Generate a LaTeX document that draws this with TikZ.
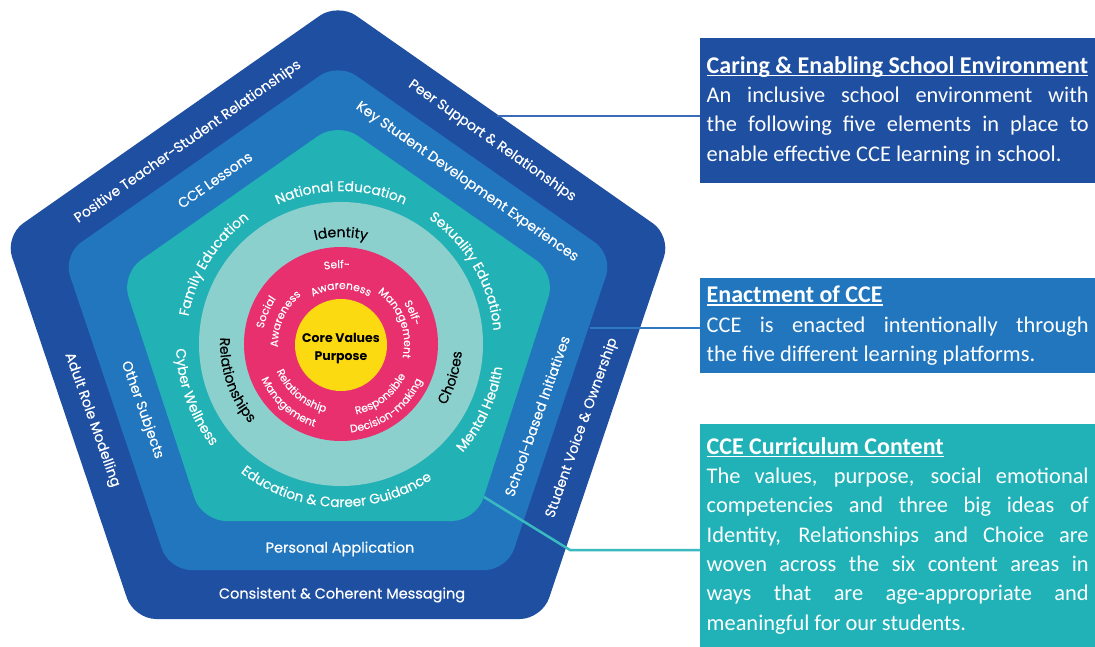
\documentclass[tikz,border=0pt]{standalone}
\usepackage{fontspec}
\setmainfont{Carlito}
\newfontfamily\pop{Poppins}
\newfontfamily\popm{Poppins}[FakeBold=0.4]
\newfontfamily\popl{Poppins}[FakeBold=0.25]
\usetikzlibrary{decorations.text,calc}
\definecolor{dblue}{HTML}{1F4FA0}
\definecolor{mblue}{HTML}{2176BE}
\definecolor{tealc}{HTML}{22B1B5}
\definecolor{lteal}{HTML}{8CD0CE}
\definecolor{pinkc}{HTML}{E8306F}
\definecolor{yellowc}{HTML}{FCDA12}
\definecolor{lineone}{HTML}{3A6BB8}
\definecolor{linetwo}{HTML}{2E7AC2}
\definecolor{linethree}{HTML}{38BAC0}
\definecolor{boxteal}{HTML}{21B2B8}
\pgfdeclareradialshading{ringfade}{\pgfpoint{0bp}{0bp}}{color(0bp)=(lteal); color(44bp)=(lteal); color(50bp)=(tealc)}
\newlength\hdlen
\newcommand\hdul[1]{{\fontsize{24}{29.3}\selectfont\bfseries\settowidth{\hdlen}{#1}\makebox[0pt][l]{\rule[-3pt]{\hdlen}{1.5pt}}#1}}
\tikzset{
  lbl/.style={text=white, font=\popm\fontsize{14}{14}\selectfont, inner sep=0pt},
  lblb/.style={text=white, font=\popm\fontsize{14.5}{14.5}\selectfont, inner sep=0pt},
  tealtxt/.style={decorate, decoration={text along path, text align=center, text color=white, text={|\popm\fontsize{13.8}{13.8}\selectfont|#1}}},
  ringtxt/.style={decorate, decoration={text along path, text align=center, text color=black, text={|\popm\fontsize{14}{14}\selectfont|#1}}},
  pinktxt/.style={decorate, decoration={text along path, text align=center, text color=white, text={|\popl\fontsize{10.8}{10.8}\selectfont|#1}}},
  infobox/.style={anchor=north west, text width=382pt, inner xsep=6.5pt, inner ysep=0pt, align=justify, text=white, font=\fontsize{22.4}{29.3}\selectfont},
  conn/.style={line width=2.5pt}
}
\begin{document}
\begin{tikzpicture}[x=1pt,y=1pt]
\useasboundingbox (0,0) rectangle (1095,-647);
\fill[white] (0,0) rectangle (1095,-647);
% pentagons
\fill[dblue, rounded corners=22pt] (338,-3) -- (671,-236) -- (542,-619) -- (134,-619) -- (5,-236) -- cycle;
\fill[mblue, rounded corners=22pt] (338,-63) -- (613,-255) -- (507,-570) -- (169,-570) -- (63,-255) -- cycle;
\fill[tealc, rounded corners=24pt] (338,-122) -- (556,-274) -- (476,-521) -- (202,-521) -- (121,-274) -- cycle;
\coordinate (C) at (341,-344);
\shade[shading=ringfade] (C) circle[radius=142];
\fill[pinkc] (C) circle[radius=97];
\fill[yellowc] (341,-345) circle[radius=46];
% core
\node[font=\pop\bfseries\fontsize{12.5}{12.5}\selectfont, inner sep=0pt] (core1) at (341,-338) {Core Values};
\node[font=\pop\bfseries\fontsize{12.5}{12.5}\selectfont, inner sep=0pt] (core2) at (341,-358) {Purpose};
% teal ring texts
\path[tealtxt={National Education}] ($(C)+(125:153)$) arc[start angle=125, end angle=55, radius=153];
\path[tealtxt={Sexuality Education}] ($(C)+(70:153)$) arc[start angle=70, end angle=-10, radius=153];
\path[tealtxt={Mental Health}] ($(C)+(-62:163)$) arc[start angle=-62, end angle=12, radius=163];
\path[tealtxt={Education {\&} Career Guidance}] ($(C)+(205:163)$) arc[start angle=205, end angle=331, radius=163];
\path[tealtxt={Cyber Wellness}] ($(C)+(160:165)$) arc[start angle=160, end angle=240, radius=165];
\path[tealtxt={Family Education}] ($(C)+(192:155)$) arc[start angle=192, end angle=104, radius=155];
% light ring texts
\path[ringtxt={Identity}] ($(C)+(120:107)$) arc[start angle=120, end angle=60, radius=107];
\path[ringtxt={Relationships}] ($(C)+(150:121)$) arc[start angle=150, end angle=248, radius=121];
\path[ringtxt={Choices}] ($(C)+(-52:121)$) arc[start angle=-52, end angle=18, radius=121];
% pink ring texts
\path[pinktxt={Self-}] ($(C)+(118:76)$) arc[start angle=118, end angle=68, radius=76];
\path[pinktxt={Awareness}] ($(C)+(145:55)$) arc[start angle=145, end angle=35, radius=55];
\path[pinktxt={Social}] ($(C)+(190:79)$) arc[start angle=190, end angle=124, radius=79];
\path[pinktxt={Awareness}] ($(C)+(210:63)$) arc[start angle=210, end angle=102, radius=63];
\path[pinktxt={Self-}] ($(C)+(50:75)$) arc[start angle=50, end angle=-3, radius=75];
\path[pinktxt={Management}] ($(C)+(76:63)$) arc[start angle=76, end angle=-34, radius=63];
\path[pinktxt={Responsible}] ($(C)+(-106:72)$) arc[start angle=-106, end angle=2, radius=72];
\path[pinktxt={Decision-making}] ($(C)+(-116:89)$) arc[start angle=-116, end angle=8, radius=89];
\path[pinktxt={Relationship}] ($(C)+(176:70)$) arc[start angle=176, end angle=284, radius=70];
\path[pinktxt={Management}] ($(C)+(174:87)$) arc[start angle=174, end angle=282, radius=87];
% outer band labels
\node[lbl, rotate=35] (o1) at (188,-142) {Positive Teacher-Student Relationships};
\node[lbl, rotate=-35] (o2) at (492,-141) {Peer Support \& Relationships};
\node[lbl, rotate=70.5] (o3) at (582,-428) {Student Voice \& Ownership};
\node[lblb] (o4) at (342,-595) {Consistent \& Coherent Messaging};
\node[lbl, rotate=-70.5] (o5) at (92,-420) {Adult Role Modelling};
% middle band labels
\node[lbl, rotate=35] (m1) at (215,-180) {CCE Lessons};
\node[lbl, rotate=-35] (m2) at (467,-182) {Key Student Development Experiences};
\node[lbl, rotate=70.5] (m3) at (537,-416) {School-based Initiatives};
\node[lblb] (m4) at (340,-549) {Personal Application};
\node[lbl, rotate=-70.5] (m5) at (142,-410) {Other Subjects};
% info boxes
\node[infobox, fill=dblue, minimum height=145pt] (box1) at (700,-38) {\tolerance=10000\hyphenpenalty=10000\hdul{Caring \& Enabling School Environment}\\An inclusive school environment with\linebreak the following five elements in place to\linebreak enable effective CCE learning in school.};
\node[infobox, fill=mblue, minimum height=95pt] (box2) at (700,-278) {\tolerance=10000\hyphenpenalty=10000\hdul{Enactment of CCE}\\CCE is enacted intentionally through\linebreak the five different learning platforms.};
\node[infobox, fill=boxteal, minimum height=223pt] (box3) at (700,-424) {\tolerance=10000\hyphenpenalty=10000\exhyphenpenalty=10000\hdul{CCE Curriculum Content}\\The values, purpose, social emotional\linebreak competencies and three big ideas of\linebreak Identity, Relationships and Choice are\linebreak woven across the six content areas in\linebreak ways that are age-appropriate and\linebreak meaningful for our students.};
% connectors
\coordinate (p1) at (497,-116);
\coordinate (p2) at (590,-328);
\coordinate (p3) at (484,-497);
\coordinate (p3b) at (570,-550);
\draw[conn, lineone] (p1) -- (p1 -| box1.west);
\draw[conn, linetwo] (p2) -- (p2 -| box2.west);
\draw[conn, linethree] (p3) -- (p3b) -- (p3b -| box3.west);
\end{tikzpicture}
\end{document}
